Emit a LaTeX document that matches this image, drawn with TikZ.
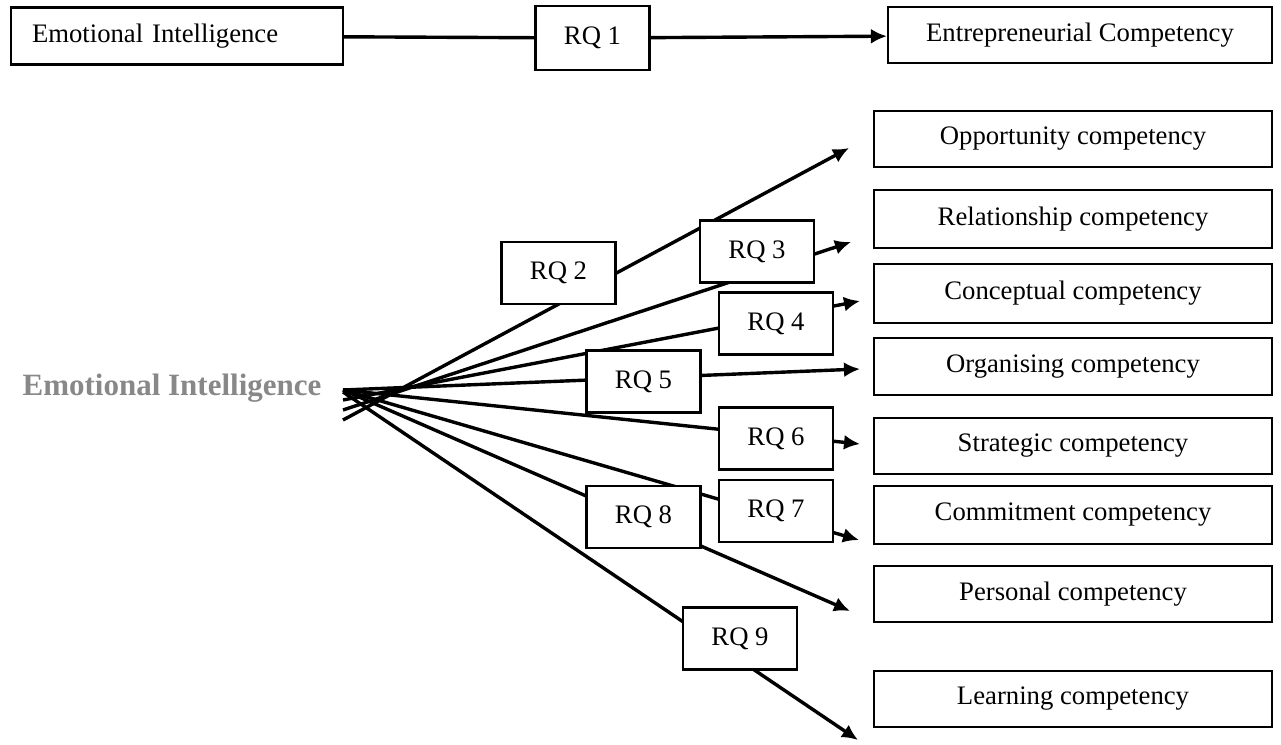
\documentclass[tikz,border=0pt]{standalone}
\usepackage{fontspec}
\setmainfont{Liberation Serif}
\usetikzlibrary{arrows.meta}
\definecolor{eigray}{RGB}{136,136,136}
\tikzset{
  >={Latex[length=16pt,width=15pt]},
}
\tikzstyle{box}=[draw,line width=2.2pt,fill=white,inner sep=0pt,minimum height=57pt]
\tikzstyle{rqbox}=[box,minimum width=114pt,minimum height=62pt]
\tikzstyle{compbox}=[box,minimum width=398pt]
\tikzstyle{link}=[line width=3.4pt]
\tikzstyle{every node}=[font=\fontsize{26.7}{30}\selectfont]

\begin{document}
\begin{tikzpicture}[x=1pt,y=-1pt]
    \useasboundingbox (0,0) rectangle (1281,744);

    % top row
    \node[box,minimum width=332pt,text width=290pt,align=left] (eitop) at (177,36) {Emotional Intelligence};
    \node[rqbox,minimum height=64pt] (rq1) at (592.5,38) {RQ 1};
    \node[box,minimum width=384pt,minimum height=56pt] (ectop) at (1080,35) {Entrepreneurial Competency};
    \draw[link] (eitop) -- (rq1);
    \draw[link,->] (rq1) -- (ectop);

    % root and competencies
    \node[font=\fontsize{31}{36}\selectfont\bfseries,text=eigray] (eiroot) at (172,388) {Emotional Intelligence};
    \node[compbox,minimum height=56pt] (opp) at (1073,139) {Opportunity competency};
    \node[compbox,minimum height=58pt] (rel) at (1073,219) {Relationship competency};
    \node[compbox,minimum height=59pt] (con) at (1073,293.5) {Conceptual competency};
    \node[compbox] (org) at (1073,366.5) {Organising competency};
    \node[compbox,minimum height=56pt] (str) at (1073,446) {Strategic competency};
    \node[compbox,minimum height=58pt] (com) at (1073,515) {Commitment competency};
    \node[compbox,minimum height=56pt] (per) at (1073,594) {Personal competency};
    \node[compbox,minimum height=56pt] (lea) at (1073,699) {Learning competency};

    % fan of research questions
    \coordinate (s2) at (343,420);
    \coordinate (s3) at (343,410);
    \coordinate (s4) at (343,400);
    \coordinate (s5) at (343,390);
    \coordinate (s6) at (343,390);
    \coordinate (s7) at (343,390);
    \coordinate (s8) at (343,390);
    \coordinate (s9) at (343,392);
    \coordinate (t2) at (849,148);
    \coordinate (t3) at (851,242);
    \coordinate (t4) at (860,301);
    \coordinate (t5) at (860,369);
    \coordinate (t6) at (860,444);
    \coordinate (t7) at (859,540);
    \coordinate (t8) at (850,611);
    \coordinate (t9) at (858,740);
    \draw[link,->] (s2) -- (t2);
    \draw[link,->] (s3) -- (t3);
    \draw[link,->] (s4) -- (t4);
    \draw[link,->] (s5) -- (t5);
    \draw[link,->] (s6) -- (t6);
    \draw[link,->] (s7) -- (t7);
    \draw[link,->] (s8) -- (t8);
    \draw[link,->] (s9) -- (t9);

    \node[rqbox] (rq2) at (558.5,273) {RQ 2};
    \node[rqbox] (rq3) at (757,251.5) {RQ 3};
    \node[rqbox] (rq4) at (776,323.5) {RQ 4};
    \node[rqbox] (rq5) at (643.5,381.5) {RQ 5};
    \node[rqbox] (rq6) at (776,438.5) {RQ 6};
    \node[rqbox] (rq7) at (776,511) {RQ 7};
    \node[rqbox] (rq8) at (643.5,517) {RQ 8};
    \node[rqbox] (rq9) at (740,638.5) {RQ 9};
\end{tikzpicture}
\end{document}
